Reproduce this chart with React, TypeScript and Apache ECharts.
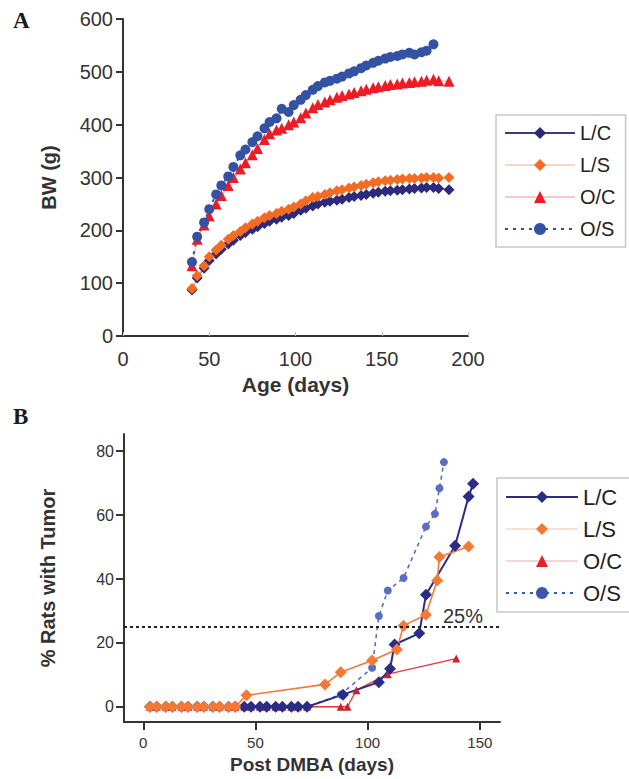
import React, { useEffect, useRef } from "react";
import * as echarts from "echarts";

const FONT = '"Liberation Sans", Arial, Helvetica, sans-serif';
const SERIF = '"Liberation Serif", "Times New Roman", serif';

// ---------- Panel A: body weight ----------
const ageDays = [40, 43, 47, 50, 54, 57, 61, 64, 68, 71, 75, 78, 82, 85, 89, 92, 96, 99, 103, 106, 110, 113, 117, 120, 124, 127, 131, 134, 138, 141, 145, 148, 152, 155, 159, 162, 166, 169, 173, 176, 180, 183, 189];
const bwLC = [87, 110, 128, 143, 155, 164, 174, 181, 190, 196, 202, 207, 213, 217, 221, 225, 228, 232, 238, 242, 246, 250, 253, 255, 257, 259, 262, 264, 266, 268, 270, 272, 274, 275, 276, 277, 278, 279, 280, 281, 281, 279, 277];
const bwLS = [90, 114, 133, 150, 163, 172, 183, 190, 198, 205, 212, 217, 224, 228, 232, 236, 240, 244, 250, 256, 262, 264, 268, 271, 275, 277, 280, 282, 285, 287, 290, 292, 294, 295, 296, 297, 298, 298, 299, 300, 300, 299, 300];
const bwOC = [133, 183, 210, 227, 250, 266, 285, 300, 316, 328, 343, 355, 372, 383, 390, 393, 400, 405, 413, 422, 432, 438, 443, 447, 452, 455, 458, 461, 464, 467, 470, 472, 474, 476, 477, 479, 480, 481, 482, 484, 486, 483, 482];
const ageDaysOS = [40, 43, 47, 50, 54, 57, 61, 64, 68, 71, 75, 78, 82, 85, 89, 92, 96, 99, 103, 106, 110, 113, 117, 120, 124, 127, 131, 134, 138, 141, 145, 148, 152, 155, 159, 162, 166, 169, 173, 176, 180];
const bwOS = [140, 188, 215, 240, 268, 285, 302, 320, 342, 353, 367, 378, 393, 405, 412, 430, 424, 437, 447, 456, 466, 473, 480, 483, 487, 491, 497, 501, 507, 512, 517, 521, 525, 528, 530, 533, 536, 533, 537, 540, 552];
const ageTicks = [0, 50, 100, 150, 200];
const bwTicks = [0, 100, 200, 300, 400, 500, 600];

// ---------- Panel B: tumor incidence ----------
const daysLC = [3, 6, 10, 13, 17, 20, 24, 27, 31, 34, 38, 41, 45, 48, 52, 55, 59, 62, 66, 69, 73, 89, 105, 110, 112, 123, 126, 139, 145, 147];
const pctLC = [0, 0, 0, 0, 0, 0, 0, 0, 0, 0, 0, 0, 0, 0, 0, 0, 0, 0, 0, 0, 0, 3.8, 7.7, 11.9, 19.5, 23, 35.1, 50.4, 65.8, 69.8];
const daysLS = [3, 6, 10, 13, 17, 20, 24, 27, 31, 34, 38, 41, 46, 81, 88, 102, 113, 116, 126, 131, 132, 145];
const pctLS = [0, 0, 0, 0, 0, 0, 0, 0, 0, 0, 0, 0, 3.6, 7.0, 10.8, 14.5, 17.9, 25.4, 28.8, 39.5, 46.9, 50.2];
const daysOC = [3, 6, 10, 13, 17, 20, 24, 27, 31, 34, 38, 41, 45, 48, 52, 55, 59, 62, 66, 69, 73, 88, 91, 95, 109, 139.5];
const pctOC = [0, 0, 0, 0, 0, 0, 0, 0, 0, 0, 0, 0, 0, 0, 0, 0, 0, 0, 0, 0, 0, 0, 0, 5.2, 10.2, 15.1];
const daysOS = [3, 6, 10, 13, 17, 20, 24, 27, 31, 34, 38, 41, 45, 48, 52, 55, 59, 62, 66, 69, 73, 88, 102, 105, 109, 116, 126, 130, 132, 134];
const pctOS = [0, 0, 0, 0, 0, 0, 0, 0, 0, 0, 0, 0, 0, 0, 0, 0, 0, 0, 0, 0, 0, 3.8, 12.2, 28.4, 36.4, 40.3, 56.4, 60.4, 68.4, 76.6];
const dmbaTicks = [0, 50, 100, 150];
const pctTicks = [0, 20, 40, 60, 80];
const threshold = 25;

const groups = ["L/C", "L/S", "O/C", "O/S"];

const pairs = (xs: number[], ys: number[]) => xs.map((x, i) => [x, ys[i]]);

const AXIS = "#333";

function optionA(): any {
  return {
    animation: false,
    textStyle: { fontFamily: FONT },
    grid: { left: 123, top: 19, width: 345, height: 320 },
    graphic: [
      { type: "text", left: 13, top: 9, style: { text: "A", font: `bold 23px ${SERIF}`, fill: "#1a1a1a" } },
    ],
    xAxis: {
      type: "value", min: 0, max: 200, interval: 50,
      axisLine: { show: true, onZero: false, lineStyle: { color: AXIS, width: 2 } },
      axisTick: { show: true, inside: true, length: 4, lineStyle: { color: "#bbb", width: 1 }, customValues: ageTicks },
      axisLabel: { color: "#333", fontSize: 20, margin: 13, customValues: ageTicks },
      splitLine: { show: false },
      name: "Age (days)", nameLocation: "middle", nameGap: 38,
      nameTextStyle: { fontSize: 21, fontWeight: "bold", color: "#333", fontFamily: FONT },
    },
    yAxis: {
      type: "value", min: 0, max: 600, interval: 100,
      axisLine: { show: true, onZero: false, lineStyle: { color: AXIS, width: 2 } },
      axisTick: { show: true, length: 7, lineStyle: { color: AXIS, width: 2 }, customValues: bwTicks },
      axisLabel: { color: "#333", fontSize: 20, margin: 10, customValues: bwTicks },
      splitLine: { show: false },
      name: "BW (g)", nameLocation: "middle", nameGap: 64,
      nameTextStyle: { fontSize: 20, fontWeight: "bold", color: "#333", fontFamily: FONT },
    },
    legend: {
      orient: "vertical", left: 496, top: 115, padding: [8, 10, 8, 8], itemGap: 12,
      itemWidth: 70, itemHeight: 15, borderColor: "#c8c8c8", borderWidth: 1.5,
      textStyle: { fontSize: 20, color: "#222", fontFamily: FONT },
      data: groups,
    },
    series: [
      {
        name: "L/C", type: "line", data: pairs(ageDays, bwLC), symbol: "diamond", symbolSize: 11,
        itemStyle: { color: "#2c2a7d" }, lineStyle: { color: "#3b3a8a", width: 1 },
      },
      {
        name: "L/S", type: "line", data: pairs(ageDays, bwLS), symbol: "diamond", symbolSize: 11,
        itemStyle: { color: "#f36c21" }, lineStyle: { color: "#fad6c4", width: 1.5 },
      },
      {
        name: "O/C", type: "line", data: pairs(ageDays, bwOC), symbol: "triangle", symbolSize: 11,
        itemStyle: { color: "#ed1c24" }, lineStyle: { color: "#f7c8c8", width: 1.5 },
      },
      {
        name: "O/S", type: "line", data: pairs(ageDaysOS, bwOS), symbol: "circle", symbolSize: 10,
        itemStyle: { color: "#3452a4" }, lineStyle: { color: "#3452a4", width: 2, type: [3, 5] },
      },
    ],
  };
}

function optionB(): any {
  return {
    animation: false,
    textStyle: { fontFamily: FONT },
    grid: { left: 124, top: 34, width: 376, height: 289 },
    graphic: [
      { type: "text", left: 13, top: 5, style: { text: "B", font: `bold 23px ${SERIF}`, fill: "#1a1a1a" } },
    ],
    xAxis: {
      type: "value", min: -8.6, max: 159,
      axisLine: { show: true, onZero: false, lineStyle: { color: AXIS, width: 2 } },
      axisTick: { show: true, length: 8, lineStyle: { color: AXIS, width: 2 }, customValues: dmbaTicks },
      axisLabel: { color: "#333", fontSize: 15, margin: 13, customValues: dmbaTicks },
      splitLine: { show: false },
      name: "Post DMBA (days)", nameLocation: "middle", nameGap: 32,
      nameTextStyle: { fontSize: 19, fontWeight: "bold", color: "#333", fontFamily: FONT },
    },
    yAxis: {
      type: "value", min: -4.8, max: 85.4,
      axisLine: { show: true, onZero: false, lineStyle: { color: AXIS, width: 2 } },
      axisTick: { show: true, length: 8, lineStyle: { color: AXIS, width: 2 }, customValues: pctTicks },
      axisLabel: { color: "#333", fontSize: 16, margin: 10, customValues: pctTicks },
      splitLine: { show: false },
      name: "% Rats with Tumor", nameLocation: "middle", nameGap: 66,
      nameTextStyle: { fontSize: 20, fontWeight: "bold", color: "#333", fontFamily: FONT },
    },
    legend: {
      orient: "vertical", left: 497, top: 78, padding: [8, 10, 8, 8], itemGap: 10,
      itemWidth: 72, itemHeight: 15, borderColor: "#c8c8c8", borderWidth: 1.5,
      textStyle: { fontSize: 22, color: "#222", fontFamily: FONT },
      data: [
        { name: "L/C", itemStyle: { color: "#2b2d84" }, lineStyle: { color: "#2b2d84", width: 2 } },
        { name: "L/S", itemStyle: { color: "#f27a35" }, lineStyle: { color: "#fbd5c2", width: 1.5 } },
        { name: "O/C", itemStyle: { color: "#e8202a" }, lineStyle: { color: "#f6c6c6", width: 1.5 } },
        { name: "O/S", itemStyle: { color: "#3d56b0" }, lineStyle: { color: "#3d56b0", width: 2, type: [3, 5] } },
      ],
    },
    series: [
      {
        name: "O/C", type: "line", data: pairs(daysOC, pctOC), symbol: "triangle", symbolSize: 8,
        itemStyle: { color: "#c4242b" }, lineStyle: { color: "#e8353b", width: 1.3 },
      },
      {
        name: "O/S", type: "line", data: pairs(daysOS, pctOS), symbol: "circle", symbolSize: 8,
        itemStyle: { color: "#5a6dc6" }, lineStyle: { color: "#5a6dc6", width: 1.6, type: [4, 4] },
      },
      {
        name: "L/C", type: "line", data: pairs(daysLC, pctLC), symbol: "diamond", symbolSize: 12,
        itemStyle: { color: "#2b2d84" }, lineStyle: { color: "#2b2d84", width: 2 },
        markLine: {
          silent: true, symbol: "none", animation: false,
          lineStyle: { color: "#222", width: 2, type: [3, 3] },
          label: {
            show: true, position: "insideEndTop", formatter: "25%", fontSize: 20, color: "#333",
            fontFamily: FONT, distance: 1, padding: [0, 16, 0, 0],
          },
          data: [{ yAxis: threshold }],
        },
      },
      {
        name: "L/S", type: "line", data: pairs(daysLS, pctLS), symbol: "diamond", symbolSize: 12,
        itemStyle: { color: "#f27a35" }, lineStyle: { color: "#f27a35", width: 1.6 },
      },
    ],
  };
}

export default function App() {
  const refA = useRef<HTMLDivElement>(null);
  const refB = useRef<HTMLDivElement>(null);

  useEffect(() => {
    const a = echarts.init(refA.current as HTMLDivElement, null, { renderer: "svg" });
    const b = echarts.init(refB.current as HTMLDivElement, null, { renderer: "svg" });
    a.setOption(optionA());
    b.setOption(optionB());
    return () => {
      a.dispose();
      b.dispose();
    };
  }, []);

  return (
    <div style={{ position: "absolute", left: 0, top: 0, width: 629, height: 779, background: "#fff" }}>
      <div ref={refA} style={{ position: "absolute", left: 0, top: 0, width: 629, height: 400 }} />
      <div ref={refB} style={{ position: "absolute", left: 0, top: 400, width: 629, height: 379 }} />
    </div>
  );
}
